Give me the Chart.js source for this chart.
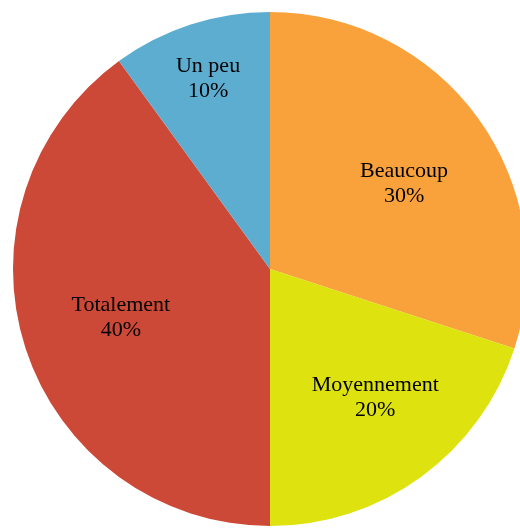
<!DOCTYPE html>
<html>
<head>
<meta charset="utf-8">
<script src="https://cdn.jsdelivr.net/npm/chart.js@4"></script>
<style>
  html, body { margin: 0; padding: 0; background: #fff; overflow: hidden; }
  #wrap { position: absolute; left: 0; top: 0; width: 540px; height: 539px; }
</style>
</head>
<body>
<div id="wrap"><canvas id="pieChart"></canvas></div>
<script>
// answers, clockwise from 12 o'clock
var labels = ['Beaucoup', 'Moyennement', 'Totalement', 'Un peu'];
var values = [30, 20, 40, 10];
var colors = ['#F9A23C', '#DEE20F', '#CC4937', '#5DADD0'];

// label placement: share of radius, and a small turn (degrees) off the slice middle
var labelRadius = [0.62, 0.645, 0.61, 0.78];
var labelTurn = [3.3, -3.4, 0, 0];

// draws "name / xx%" inside each slice
var sliceLabels = {
    id: 'sliceLabels',
    afterDatasetsDraw: function (chart) {
        var ctx = chart.ctx;
        var meta = chart.getDatasetMeta(0);
        var total = values.reduce(function (a, b) { return a + b; }, 0);
        ctx.save();
        ctx.fillStyle = '#000';
        ctx.font = '22px "Liberation Serif", "Times New Roman", serif';
        ctx.textAlign = 'center';
        ctx.textBaseline = 'middle';
        meta.data.forEach(function (arc, i) {
            var mid = (arc.startAngle + arc.endAngle) / 2 + labelTurn[i] * Math.PI / 180;
            var r = arc.outerRadius * labelRadius[i];
            var x = arc.x + Math.cos(mid) * r;
            var y = arc.y + Math.sin(mid) * r;
            var pct = Math.round(values[i] / total * 100) + '%';
            ctx.fillText(labels[i], x, y - 12);
            ctx.fillText(pct, x, y + 13);
        });
        ctx.restore();
    }
};

var pieChart = new Chart(document.getElementById('pieChart'), {
    type: 'pie',
    data: {
        labels: labels,
        datasets: [{
            data: values,
            backgroundColor: colors,
            borderWidth: 0
        }]
    },
    options: {
        responsive: true, maintainAspectRatio: false,
        animation: false,
        layout: { padding: { top: 12, bottom: 13, left: 13, right: 13 } },
        plugins: {
            legend: { display: false },
            tooltip: { enabled: false }
        }
    },
    plugins: [sliceLabels]
});
</script>
</body>
</html>
